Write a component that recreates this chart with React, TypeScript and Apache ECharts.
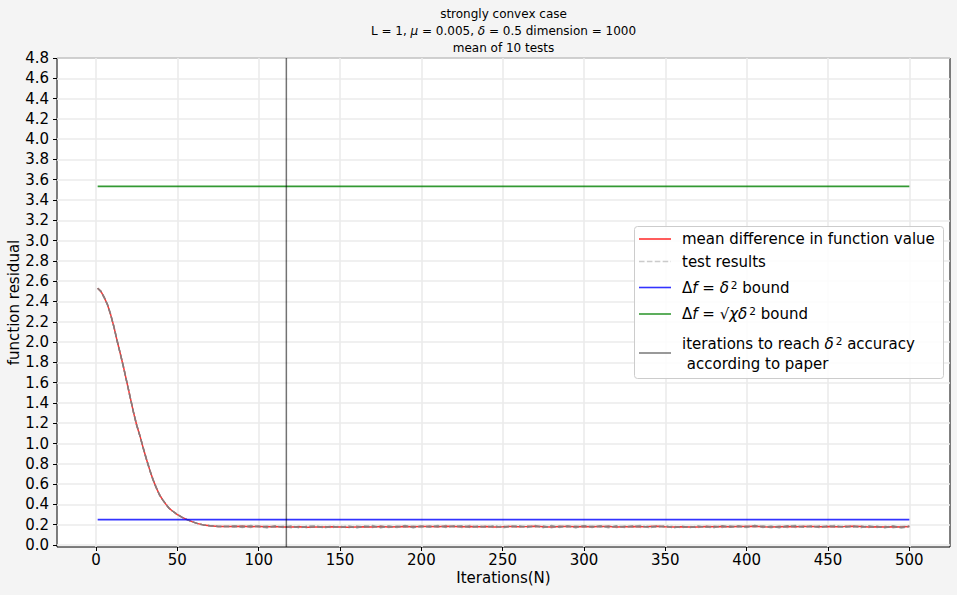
import React, { useEffect, useRef } from 'react';
import * as echarts from 'echarts';

// ---------- data ----------
const TITLE_LINE_1 = 'strongly convex case';
const TITLE_LINE_2 = 'L = 1, {i|μ} = 0.005, {i|δ} = 0.5 dimension = 1000';
const TITLE_LINE_3 = 'mean of 10 tests';

const X_NAME = 'Iterations(N)';
const Y_NAME = 'function residual';

const X_TICKS = [0, 50, 100, 150, 200, 250, 300, 350, 400, 450, 500];
const Y_TICKS = [0, 0.2, 0.4, 0.6, 0.8, 1.0, 1.2, 1.4, 1.6, 1.8, 2.0, 2.2, 2.4, 2.6, 2.8, 3.0, 3.2, 3.4, 3.6, 3.8, 4.0, 4.2, 4.4, 4.6, 4.8];
const X_MIN = -24;
const X_MAX = 525;
const Y_MIN = -0.02;
const Y_MAX = 4.8;

// mean curve, early iterations (shared by the test runs, which coincide there)
const DESCENT_ITERS = [1, 3, 5, 7, 9, 11, 13, 15, 17, 19, 21, 23, 25, 27, 29, 31, 33, 35, 37, 39, 41, 43, 45, 47, 50, 53, 56, 59, 62, 66, 70, 75, 80];
const DESCENT_VALUES = [2.53, 2.5, 2.44, 2.37, 2.27, 2.15, 2.01, 1.88, 1.745, 1.6, 1.455, 1.31, 1.18, 1.075, 0.955, 0.845, 0.74, 0.645, 0.565, 0.495, 0.445, 0.4, 0.36, 0.335, 0.3, 0.272, 0.25, 0.23, 0.213, 0.198, 0.189, 0.183, 0.181];

// tail, iterations 85..500 every 5
const TAIL_START = 85;
const TAIL_STEP = 5;
const MEAN_TAIL = [
  0.182, 0.184, 0.18, 0.183, 0.179, 0.181, 0.178, 0.176, 0.179, 0.175,
  0.178, 0.176, 0.179, 0.177, 0.174, 0.178, 0.18, 0.177, 0.181, 0.178,
  0.18, 0.182, 0.179, 0.181, 0.183, 0.18, 0.184, 0.182, 0.18, 0.183,
  0.179, 0.181, 0.178, 0.18, 0.183, 0.179, 0.181, 0.184, 0.18, 0.178,
  0.181, 0.183, 0.18, 0.182, 0.179, 0.183, 0.181, 0.178, 0.18, 0.182,
  0.179, 0.181, 0.184, 0.18, 0.177, 0.179, 0.176, 0.178, 0.181, 0.179,
  0.182, 0.18, 0.183, 0.181, 0.184, 0.18, 0.177, 0.18, 0.182, 0.179,
  0.181, 0.183, 0.18, 0.182, 0.179, 0.181, 0.184, 0.181, 0.178, 0.18,
  0.177, 0.179, 0.176, 0.181,
];
const TEST_A_TAIL = [
  0.19, 0.178, 0.188, 0.176, 0.186, 0.174, 0.184, 0.17, 0.185, 0.169,
  0.183, 0.171, 0.187, 0.17, 0.181, 0.168, 0.186, 0.172, 0.189, 0.171,
  0.187, 0.175, 0.188, 0.173, 0.19, 0.174, 0.191, 0.176, 0.187, 0.174,
  0.188, 0.173, 0.186, 0.172, 0.19, 0.173, 0.188, 0.176, 0.189, 0.17,
  0.187, 0.175, 0.188, 0.174, 0.186, 0.175, 0.189, 0.171, 0.187, 0.174,
  0.186, 0.173, 0.19, 0.172, 0.185, 0.171, 0.183, 0.17, 0.188, 0.172,
  0.189, 0.174, 0.19, 0.175, 0.191, 0.173, 0.185, 0.172, 0.189, 0.173,
  0.188, 0.175, 0.19, 0.174, 0.186, 0.172, 0.191, 0.174, 0.185, 0.171,
  0.184, 0.17, 0.183, 0.187,
];
const TEST_B_TAIL = [
  0.175, 0.189, 0.173, 0.19, 0.172, 0.188, 0.171, 0.183, 0.172, 0.182,
  0.173, 0.183, 0.171, 0.185, 0.168, 0.187, 0.174, 0.184, 0.173, 0.186,
  0.172, 0.189, 0.171, 0.188, 0.175, 0.187, 0.176, 0.189, 0.173, 0.191,
  0.171, 0.188, 0.17, 0.187, 0.175, 0.186, 0.173, 0.191, 0.172, 0.186,
  0.174, 0.19, 0.173, 0.189, 0.172, 0.19, 0.174, 0.186, 0.173, 0.189,
  0.171, 0.188, 0.176, 0.187, 0.17, 0.184, 0.171, 0.185, 0.174, 0.186,
  0.173, 0.189, 0.175, 0.188, 0.176, 0.19, 0.17, 0.187, 0.172, 0.189,
  0.174, 0.187, 0.173, 0.19, 0.171, 0.188, 0.174, 0.19, 0.171, 0.186,
  0.169, 0.185, 0.168, 0.18,
];
const TEST_C_TAIL = [
  0.186, 0.172, 0.191, 0.181, 0.169, 0.187, 0.176, 0.189, 0.168, 0.185,
  0.19, 0.169, 0.182, 0.174, 0.189, 0.172, 0.183, 0.191, 0.17, 0.184,
  0.176, 0.192, 0.17, 0.186, 0.178, 0.193, 0.172, 0.187, 0.19, 0.171,
  0.185, 0.177, 0.192, 0.169, 0.184, 0.19, 0.175, 0.188, 0.171, 0.191,
  0.173, 0.186, 0.169, 0.192, 0.177, 0.187, 0.17, 0.19, 0.176, 0.185,
  0.191, 0.17, 0.181, 0.189, 0.168, 0.185, 0.172, 0.188, 0.176, 0.171,
  0.19, 0.175, 0.186, 0.171, 0.192, 0.177, 0.184, 0.169, 0.187, 0.191,
  0.174, 0.188, 0.17, 0.185, 0.192, 0.173, 0.186, 0.169, 0.19, 0.177,
  0.172, 0.189, 0.171, 0.184,
];

const DELTA_SQ_BOUND = 0.25;
const SQRT_CHI_DELTA_SQ_BOUND = 3.5355;
const BOUND_FROM = 1;
const BOUND_TO = 500;
const ITERATIONS_TO_REACH = 117;

// ---------- helpers ----------
function buildCurve(tail: number[]): number[][] {
  const pts: number[][] = DESCENT_ITERS.map((it, i) => [it, DESCENT_VALUES[i]]);
  tail.forEach((v, i) => pts.push([TAIL_START + i * TAIL_STEP, v]));
  return pts;
}

const FONT = 'DejaVu Sans';
const RED = 'rgba(255,0,0,0.8)';
const TEST_GRAY = 'rgba(128,128,128,0.6)';
const LEGEND_GRAY = 'rgba(128,128,128,0.4)';
const BLUE = 'rgba(0,0,255,0.8)';
const GREEN = 'rgba(0,128,0,0.8)';
const VLINE = 'rgba(0,0,0,0.55)';
const DASH = [5.5, 2.4];

const italic = { fontStyle: 'italic', fontFamily: FONT };

export default function App() {
  const ref = useRef<HTMLDivElement>(null);
  useEffect(() => {
    if (!ref.current) return;
    const chart = echarts.init(ref.current, null, { renderer: 'svg' });

    const lineSeries = (name: string, data: number[][], color: string, width: number, dashed = false) => ({
      name,
      type: 'line',
      data,
      symbol: 'none',
      showSymbol: false,
      silent: true,
      lineStyle: { color, width, type: dashed ? DASH : 'solid' },
    });

    const legendX = 634.5;
    const legendY = 226.5;
    const sampleX1 = 639;
    const sampleX2 = 671;
    const textX = 682;
    const legendText = (text: string, y: number) => ({
      type: 'text',
      x: textX,
      y,
      style: {
        text,
        fill: '#000',
        fontFamily: FONT,
        fontSize: 15,
        verticalAlign: 'middle',
        align: 'left',
        rich: {
          i: { ...italic, fontSize: 15 },
          s: { fontFamily: FONT, fontSize: 10.5, verticalAlign: 'top', padding: [0, 0, 6, 2] },
        },
      },
    });
    const sample = (y: number, color: string, dashed = false) => ({
      type: 'line',
      shape: { x1: sampleX1, y1: y, x2: sampleX2, y2: y },
      style: { stroke: color, lineWidth: 1.6, lineDash: dashed ? DASH : null },
    });
    const titleText = (text: string, y: number) => ({
      type: 'text',
      x: 503.5,
      y,
      style: {
        text,
        fill: '#000',
        fontFamily: FONT,
        fontSize: 12,
        align: 'center',
        verticalAlign: 'middle',
        rich: { i: { ...italic, fontSize: 12 } },
      },
    });

    const option: any = {
      animation: false,
      backgroundColor: '#f4f4f4',
      textStyle: { fontFamily: FONT },
      grid: {
        left: 57,
        right: 7,
        top: 58,
        bottom: 48,
        containLabel: false,
        outerBoundsMode: 'none',
        show: true,
        backgroundColor: '#ffffff',
        borderColor: '#000000',
        borderWidth: 1,
      },
      xAxis: {
        type: 'value',
        min: X_MIN,
        max: X_MAX,
        name: X_NAME,
        nameLocation: 'middle',
        nameGap: 23,
        nameMoveOverlap: false,
        nameTextStyle: { fontSize: 15, color: '#000', fontFamily: FONT },
        axisLine: { show: false, onZero: false },
        axisTick: { show: true, length: 4, customValues: X_TICKS, lineStyle: { color: '#000', width: 1 } },
        axisLabel: {
          customValues: X_TICKS,
          fontSize: 15,
          color: '#000',
          fontFamily: FONT,
          margin: 5,
          formatter: (v: number) => String(v),
        },
        splitLine: { show: true, lineStyle: { color: '#ebebeb', width: 1.6 } },
      },
      yAxis: {
        type: 'value',
        min: Y_MIN,
        max: Y_MAX,
        name: Y_NAME,
        nameLocation: 'middle',
        nameGap: 36,
        nameMoveOverlap: false,
        nameTextStyle: { fontSize: 15, color: '#000', fontFamily: FONT },
        axisLine: { show: false, onZero: false },
        axisTick: { show: true, length: 4, customValues: Y_TICKS, lineStyle: { color: '#000', width: 1 } },
        axisLabel: {
          customValues: Y_TICKS,
          fontSize: 15,
          color: '#000',
          fontFamily: FONT,
          margin: 8,
          formatter: (v: number) => v.toFixed(1),
        },
        splitLine: { show: true, lineStyle: { color: '#ebebeb', width: 1.6 } },
      },
      series: [
        lineSeries('mean difference in function value', buildCurve(MEAN_TAIL), RED, 1.5),
        lineSeries('test results', buildCurve(TEST_A_TAIL), TEST_GRAY, 1.5, true),
        lineSeries('test results', buildCurve(TEST_B_TAIL), TEST_GRAY, 1.5, true),
        lineSeries('test results', buildCurve(TEST_C_TAIL), TEST_GRAY, 1.5, true),
        lineSeries('Δf = δ² bound', [[BOUND_FROM, DELTA_SQ_BOUND], [BOUND_TO, DELTA_SQ_BOUND]], BLUE, 1.8),
        lineSeries('Δf = √χ δ² bound', [[BOUND_FROM, SQRT_CHI_DELTA_SQ_BOUND], [BOUND_TO, SQRT_CHI_DELTA_SQ_BOUND]], GREEN, 1.8),
        lineSeries('iterations to reach δ² accuracy according to paper', [[ITERATIONS_TO_REACH, Y_MIN], [ITERATIONS_TO_REACH, Y_MAX]], VLINE, 1.5),
      ],
      graphic: [
        titleText(TITLE_LINE_1, 13.5),
        titleText(TITLE_LINE_2, 31),
        titleText(TITLE_LINE_3, 47.5),
        {
          type: 'rect',
          shape: { x: legendX, y: legendY, width: 309, height: 152, r: 3 },
          style: { fill: 'rgba(255,255,255,0.85)', stroke: '#cccccc', lineWidth: 1 },
          z: 10,
        },
        { ...sample(239, RED), z: 11 },
        { ...legendText('mean difference in function value', 239), z: 11 },
        { ...sample(261.5, LEGEND_GRAY, true), z: 11 },
        { ...legendText('test results', 261.5), z: 11 },
        { ...sample(287.5, BLUE), z: 11 },
        { ...legendText('Δ{i|f} = {i|δ}{s|2} bound', 287.5), z: 11 },
        { ...sample(314, GREEN), z: 11 },
        { ...legendText('Δ{i|f} = √{i|χ}{i|δ}{s|2} bound', 314), z: 11 },
        { ...sample(353, 'rgba(0,0,0,0.5)'), z: 11 },
        { ...legendText('iterations to reach {i|δ}{s|2} accuracy', 343.5), z: 11 },
        { ...legendText(' according to paper', 363.5), z: 11 },
      ],
    };
    chart.setOption(option);
    return () => chart.dispose();
  }, []);

  return (
    <div
      ref={ref}
      style={{ position: 'fixed', left: 0, top: 0, width: 957, height: 595, background: '#f4f4f4' }}
    />
  );
}
